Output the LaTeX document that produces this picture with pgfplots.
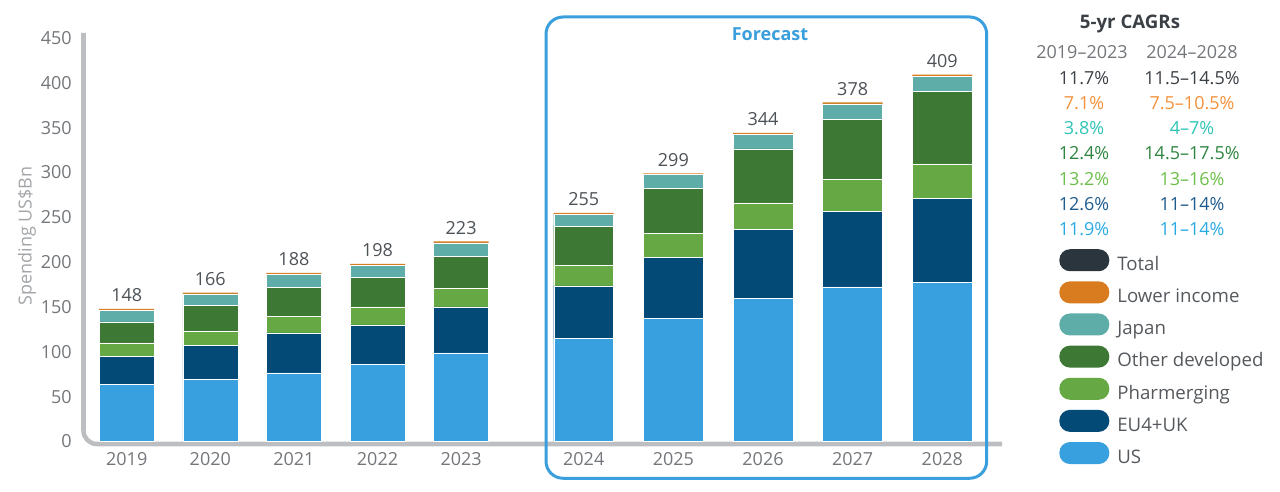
\documentclass[border=0pt]{standalone}
\usepackage{fontspec}
\setmainfont{Open Sans}
\usepackage{pgfplots}
\pgfplotsset{compat=1.18}
\definecolor{usc}{HTML}{38A0DE}
\definecolor{euc}{HTML}{044A76}
\definecolor{phc}{HTML}{66A843}
\definecolor{odc}{HTML}{3D7934}
\definecolor{jpc}{HTML}{5FADA9}
\definecolor{lic}{HTML}{D97C1F}
\definecolor{totc}{HTML}{2A353D}
\definecolor{totalt}{HTML}{3B4046}
\definecolor{lowt}{HTML}{F4913B}
\definecolor{japt}{HTML}{2EC4B6}
\definecolor{otht}{HTML}{2E8540}
\definecolor{pht}{HTML}{6CBF4B}
\definecolor{eut}{HTML}{1F5B8C}
\definecolor{ust}{HTML}{29AAE2}
\definecolor{axgray}{HTML}{BCBEC1}
\definecolor{ticktext}{HTML}{73767A}
\definecolor{labtext}{HTML}{A3A5A8}
\definecolor{valtext}{HTML}{4D5257}
\definecolor{legtext}{HTML}{55595D}
\definecolor{fcblue}{HTML}{3A9FDC}
\begin{document}
\fontsize{13.5}{16}\selectfont
\begin{tikzpicture}
\path[use as bounding box] (0,0) rectangle (960pt,369pt);
\draw[line width=3.4pt, axgray, rounded corners=10pt] (62.625pt,344.25pt) -- (62.625pt,36pt) -- (751.5pt,36pt);
\pgfplotsset{mybase/.style={
  scale only axis, width=688.875pt, height=306.075pt,
  at={(62.625pt,37.875pt)}, anchor=south west,
  ymin=0, ymax=455, ybar stacked, clip=false,
  axis line style={draw=none}, major tick length=0pt,
  /pgf/number format/assume math mode=true,
  tick label style={font=\fontsize{13.5}{16}\selectfont, text=ticktext},
  xticklabel style={inner sep=0pt, anchor=north, yshift=-8.25pt},
  yticklabel style={inner sep=0pt, anchor=east, xshift=-8.6pt},
  nodes near coords={\pgfplotspointmeta},
  every node near coord/.append style={inner sep=0pt, anchor=south, yshift=5.5pt, text=valtext, font=\fontsize{13.5}{16}\selectfont},
}}
\begin{axis}[mybase,
  bar width=0.658, xmin=2018.483, xmax=2029.470,
  xtick={2019,2020,2021,2022,2023}, xticklabels={2019,2020,2021,2022,2023},
  ytick={0,50,...,450},
  ylabel={Spending US\$Bn},
  ylabel style={at={(axis description cs:-0.0615,0.5036)}, anchor=center, text=labtext, font=\fontsize{13.5}{16}\selectfont},
  reverse legend,
  legend image code/.code={\fill[#1, draw=none, rounded corners=8pt] (0pt,-4pt) rectangle (37.5pt,12.5pt);},
  legend style={at={(axis description cs:1.0621,0.4718)}, anchor=north west, draw=none, fill=none,
    inner sep=0pt, row sep=5.1pt, column sep=6pt,
    nodes={inner sep=0pt, text height=10pt, text depth=3pt, text=legtext, font=\fontsize{14}{16}\selectfont}},
  legend cell align=left,
]
\addplot[fill=usc, draw=white, line width=0.3pt, nodes near coords=] coordinates {(2019,63.5) (2020,69.1) (2021,76.6) (2022,85.8) (2023,98.9)};
\addplot[fill=euc, draw=white, line width=0.3pt, nodes near coords=] coordinates {(2019,31.3) (2020,38.3) (2021,44.6) (2022,44.3) (2023,51.3)};
\addplot[fill=phc, draw=white, line width=0.3pt, nodes near coords=] coordinates {(2019,15.2) (2020,15.2) (2021,18.2) (2022,20.1) (2023,20.7)};
\addplot[fill=odc, draw=white, line width=0.3pt, nodes near coords=] coordinates {(2019,23.4) (2020,29.0) (2021,32.6) (2022,32.6) (2023,35.7)};
\addplot[fill=jpc, draw=white, line width=0.3pt, nodes near coords=] coordinates {(2019,13.1) (2020,12.9) (2021,14.5) (2022,13.7) (2023,14.9)};
\addplot[fill=lic, draw=none, point meta=explicit symbolic] coordinates {(2019,1.5)[148] (2020,1.5)[166] (2021,1.5)[188] (2022,1.5)[198] (2023,1.5)[223]};
\addlegendimage{fill=totc, draw=none}
\legend{US,EU4+UK,Pharmerging,Other developed,Japan,Lower income,Total}
\end{axis}
\begin{axis}[mybase,
  bar width=0.669, xmin=2018.4205, xmax=2028.666,
  xtick={2024,2025,2026,2027,2028}, xticklabels={2024,2025,2026,2027,2028},
  ytick=\empty,
]
\addplot[fill=usc, draw=white, line width=0.3pt, nodes near coords=] coordinates {(2024,115.2) (2025,137.5) (2026,159.4) (2027,172.5) (2028,177.6)};
\addplot[fill=euc, draw=white, line width=0.3pt, nodes near coords=] coordinates {(2024,58.4) (2025,67.6) (2026,76.9) (2027,84.3) (2028,93.7)};
\addplot[fill=phc, draw=white, line width=0.3pt, nodes near coords=] coordinates {(2024,22.6) (2025,26.8) (2026,29.8) (2027,35.3) (2028,38.3)};
\addplot[fill=odc, draw=white, line width=0.3pt, nodes near coords=] coordinates {(2024,43.8) (2025,50.1) (2026,60.2) (2027,67.3) (2028,80.9)};
\addplot[fill=jpc, draw=white, line width=0.3pt, nodes near coords=] coordinates {(2024,13.5) (2025,15.5) (2026,16.2) (2027,17.1) (2028,17.0)};
\addplot[fill=lic, draw=none, point meta=explicit symbolic] coordinates {(2024,1.5)[255] (2025,1.5)[299] (2026,1.5)[344] (2027,1.5)[378] (2028,1.5)[409]};
\end{axis}
\draw[line width=2.25pt, fcblue, rounded corners=12.75pt] (409.5pt,10.3pt) rectangle (740pt,356.25pt);
\node[text=fcblue, font=\fontsize{13.5}{16}\selectfont\bfseries] at (577.5pt,343.5pt) {Forecast};
\node[text=totalt, font=\fontsize{14}{16}\selectfont\bfseries] at (847.5pt,351pt) {5-yr CAGRs};
\node[text=ticktext] at (811.5pt,330pt) {2019–2023};
\node[text=ticktext] at (894pt,330pt) {2024–2028};
\node[text=totalt] at (813pt,310.5pt) {11.7\%};
\node[text=totalt] at (894pt,310.5pt) {11.5–14.5\%};
\node[text=lowt] at (813pt,291.75pt) {7.1\%};
\node[text=lowt] at (894pt,291.75pt) {7.5–10.5\%};
\node[text=japt] at (813pt,273pt) {3.8\%};
\node[text=japt] at (894pt,273pt) {4–7\%};
\node[text=otht] at (813pt,254.25pt) {12.4\%};
\node[text=otht] at (894pt,254.25pt) {14.5–17.5\%};
\node[text=pht] at (813pt,234.75pt) {13.2\%};
\node[text=pht] at (894pt,234.75pt) {13–16\%};
\node[text=eut] at (813pt,216pt) {12.6\%};
\node[text=eut] at (894pt,216pt) {11–14\%};
\node[text=ust] at (813pt,197.25pt) {11.9\%};
\node[text=ust] at (894pt,197.25pt) {11–14\%};
\end{tikzpicture}
\end{document}
